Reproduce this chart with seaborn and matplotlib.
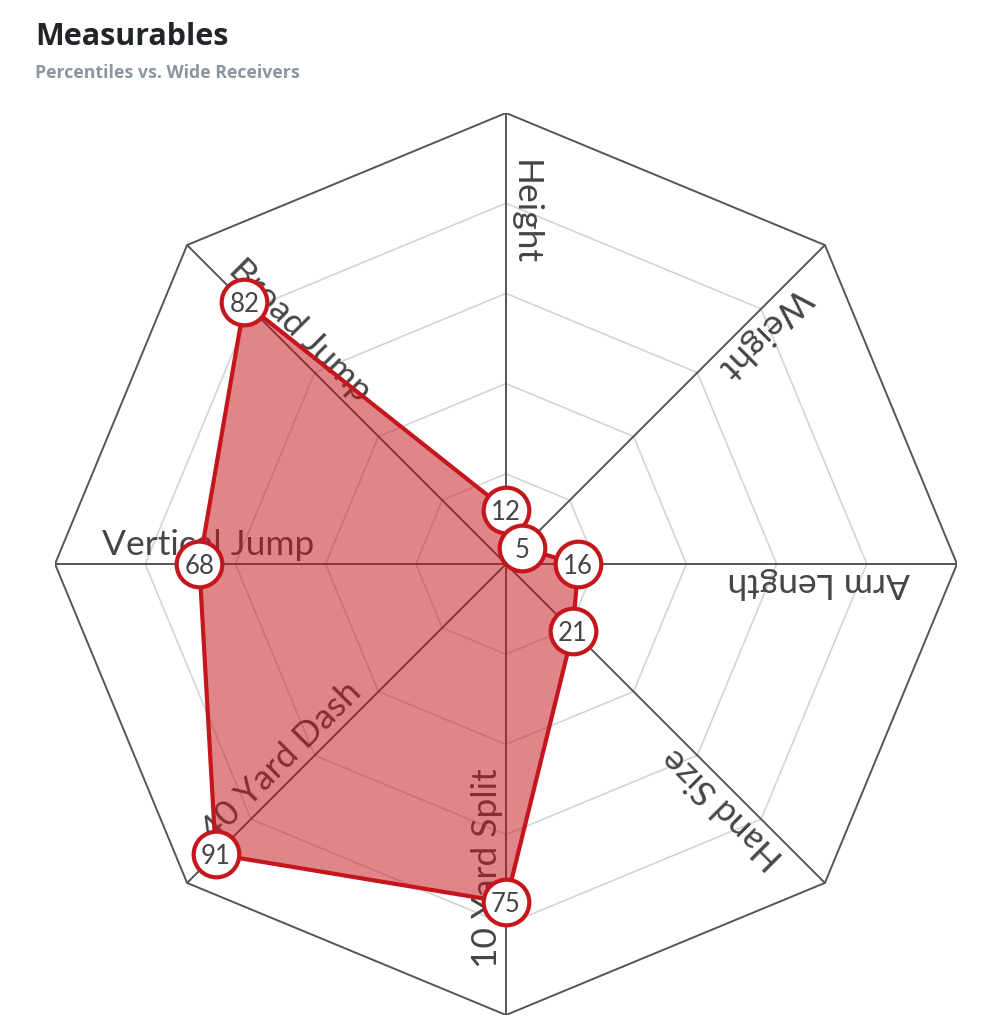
import numpy as np
import pandas as pd
import matplotlib
matplotlib.use("Agg")
import matplotlib.pyplot as plt
import seaborn as sns

# data
categories = ["Height", "Weight", "Arm Length", "Hand Size",
              "10 Yard Split", "40 Yard Dash", "Vertical Jump", "Broad Jump"]
percentiles = [12, 5, 16, 21, 75, 91, 68, 82]
angles_deg = [90, 45, 0, -45, -90, -135, 180, 135]
grid_levels = [20, 40, 60, 80]
outer_level = 100

title = "Measurables"
subtitle = "Percentiles vs. Wide Receivers"

sns.set_theme(style="white")
plt.rcParams['font.family'] = ['Lato', 'DejaVu Sans']

red = "#c4161c"
spoke_col = "#555555"
grid_col = "#d4d4d4"
text_col = "#454545"

df = pd.DataFrame({"category": categories, "value": percentiles,
                   "angle": np.deg2rad(angles_deg)})
df["x"] = df["value"] * np.cos(df["angle"])
df["y"] = df["value"] * np.sin(df["angle"])

W, H = 987, 1024
fig = plt.figure(figsize=(W / 100, H / 100), dpi=100)
cx, cy, R = 506, 564, 451
ax = fig.add_axes([(cx - R) / W, (H - cy - R) / H, 2 * R / W, 2 * R / H])
ax.set_xlim(-outer_level, outer_level)
ax.set_ylim(-outer_level, outer_level)
ax.set_aspect("equal")
ax.axis("off")

ang = df["angle"].to_numpy()
closed = np.append(ang, ang[0])

# grid rings
for lv in grid_levels:
    ax.plot(lv * np.cos(closed), lv * np.sin(closed), color=grid_col, lw=1.2, zorder=1)
ax.plot(outer_level * np.cos(closed), outer_level * np.sin(closed),
        color=spoke_col, lw=1.4, zorder=2)
# spokes
for a in ang:
    ax.plot([0, outer_level * np.cos(a)], [0, outer_level * np.sin(a)],
            color=spoke_col, lw=1.4, zorder=2)

# axis labels along spokes, reading inward
r_lab, off = 89.5, 2.0
for cat, a_deg in zip(categories, angles_deg):
    a = np.deg2rad(a_deg)
    rot = a_deg - 180
    up = np.deg2rad(rot + 90)
    x = r_lab * np.cos(a) + off * np.cos(up)
    y = r_lab * np.sin(a) + off * np.sin(up)
    ax.text(x, y, cat, rotation=rot, rotation_mode="anchor", ha="left",
            va="baseline", fontsize=25.5, color=text_col, zorder=3)

# filled polygon
ax.fill(df["x"], df["y"], color=red, alpha=0.52, lw=0, zorder=4)
ax.plot(np.append(df["x"], df["x"].iloc[0]), np.append(df["y"], df["y"].iloc[0]),
        color=red, lw=3, zorder=5)

sns.scatterplot(data=df, x="x", y="y", ax=ax, s=1080, color="white",
                edgecolor=red, linewidth=3, zorder=6, clip_on=False, legend=False)
for _, row in df.iterrows():
    ax.text(row["x"], row["y"], str(row["value"]), ha="center", va="center_baseline",
            fontsize=18.5, color=text_col, zorder=7)

fig.text(35 / W, 1 - 45 / H, title, fontsize=22, fontweight="bold",
         color="#212529", ha="left", va="baseline", family=["Open Sans", "DejaVu Sans"])
fig.text(35 / W, 1 - 78 / H, subtitle, fontsize=12.8, fontweight="bold",
         color="#8c959f", ha="left", va="baseline", family=["Open Sans", "DejaVu Sans"])

fig.savefig("out.png", dpi=100, facecolor="white")
